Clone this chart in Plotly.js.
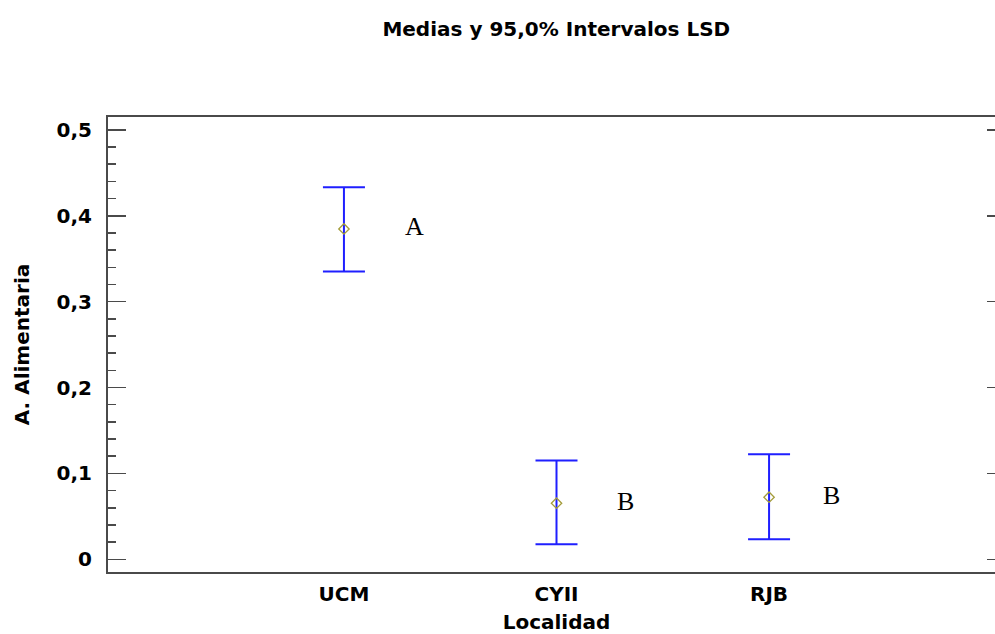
<!DOCTYPE html>
<html>
<head>
<meta charset="utf-8">
<script src="https://cdn.plot.ly/plotly-3.0.1.min.js"></script>
<style>html,body{margin:0;padding:0;overflow:hidden;background:#fff;}</style>
</head>
<body>
<div id="chart"></div>
<script>
// Data
const categories = ['UCM', 'CYII', 'RJB'];
const means = [0.3846, 0.0653, 0.0723];
const upper = [0.4331, 0.1149, 0.1224];
const lower = [0.3352, 0.0175, 0.0233];
const groupLetters = ['A', 'B', 'B'];
const yTickVals = [0, 0.1, 0.2, 0.3, 0.4, 0.5];
const yTickText = ['0', '0,1', '0,2', '0,3', '0,4', '0,5'];

const xpos = categories.map((c, i) => i);
const errPlus = upper.map((u, i) => u - means[i]);
const errMinus = lower.map((l, i) => means[i] - l);

const font = 'DejaVu Sans, Arial, sans-serif';
const axisColor = '#4a4a4a';

const traces = [
  {
    type: 'scatter', mode: 'markers', x: xpos, y: means,
    marker: {symbol: 'diamond-open', size: 8, color: '#a49c3a', line: {width: 1.3, color: '#a49c3a'}},
    error_y: {type: 'data', symmetric: false, array: errPlus, arrayminus: errMinus,
              color: '#1f1fff', thickness: 2, width: 21},
    hoverinfo: 'skip', showlegend: false
  },
  {
    type: 'scatter', mode: 'markers', x: [0], y: [0], yaxis: 'y2',
    marker: {opacity: 0}, hoverinfo: 'skip', showlegend: false
  }
];

const annotations = groupLetters.map((t, i) => ({
  x: xpos[i], y: means[i], xref: 'x', yref: 'y', text: t, showarrow: false,
  xshift: [71, 69, 62][i], yshift: 2,
  font: {family: 'Liberation Serif, Times New Roman, serif', size: 26, color: '#000'}
}));

const yr = [-0.0148, 0.515];

const layout = {
  width: 1005, height: 634,
  margin: {l: 108, r: 0, t: 117, b: 62, pad: 0},
  paper_bgcolor: '#fff', plot_bgcolor: '#fff',
  separators: ',.',
  title: {text: 'Medias y 95,0% Intervalos LSD', x: 0.5535, xanchor: 'center', y: 0.955, yanchor: 'middle',
          font: {family: font, size: 20, color: '#000', weight: 'bold'}},
  xaxis: {
    range: [-1.11, 3.11], tickvals: xpos, ticktext: categories,
    showgrid: false, zeroline: false, showline: true, mirror: true,
    linecolor: axisColor, linewidth: 2, ticks: '',
    ticklabelstandoff: 3,
    tickfont: {family: font, size: 20, color: '#000', weight: 'bold'},
    title: {text: 'Localidad', standoff: 10, font: {family: font, size: 20, color: '#000', weight: 'bold'}},
    automargin: false, fixedrange: true
  },
  yaxis: {
    range: yr, tickvals: yTickVals, ticktext: yTickText,
    showgrid: false, zeroline: false, showline: true,
    linecolor: axisColor, linewidth: 2,
    ticks: 'inside', ticklen: 18, tickwidth: 1.5, tickcolor: axisColor,
    minor: {dtick: 0.02, tick0: 0, ticks: 'inside', ticklen: 8, tickwidth: 1.5, tickcolor: axisColor},
    ticklabelstandoff: 10,
    tickfont: {family: font, size: 20, color: '#000', weight: 'bold'},
    title: {text: 'A. Alimentaria', standoff: 22, font: {family: font, size: 20, color: '#000', weight: 'bold'}},
    automargin: false, fixedrange: true
  },
  yaxis2: {
    range: yr, overlaying: 'y', side: 'right', tickvals: yTickVals,
    showticklabels: false, showgrid: false, zeroline: false, showline: false,
    ticks: 'inside', ticklen: 18, tickwidth: 1.5, tickcolor: axisColor, fixedrange: true
  },
  annotations: annotations,
  showlegend: false
};

Plotly.newPlot('chart', traces, layout, {displayModeBar: false, staticPlot: true});
</script>
</body>
</html>
